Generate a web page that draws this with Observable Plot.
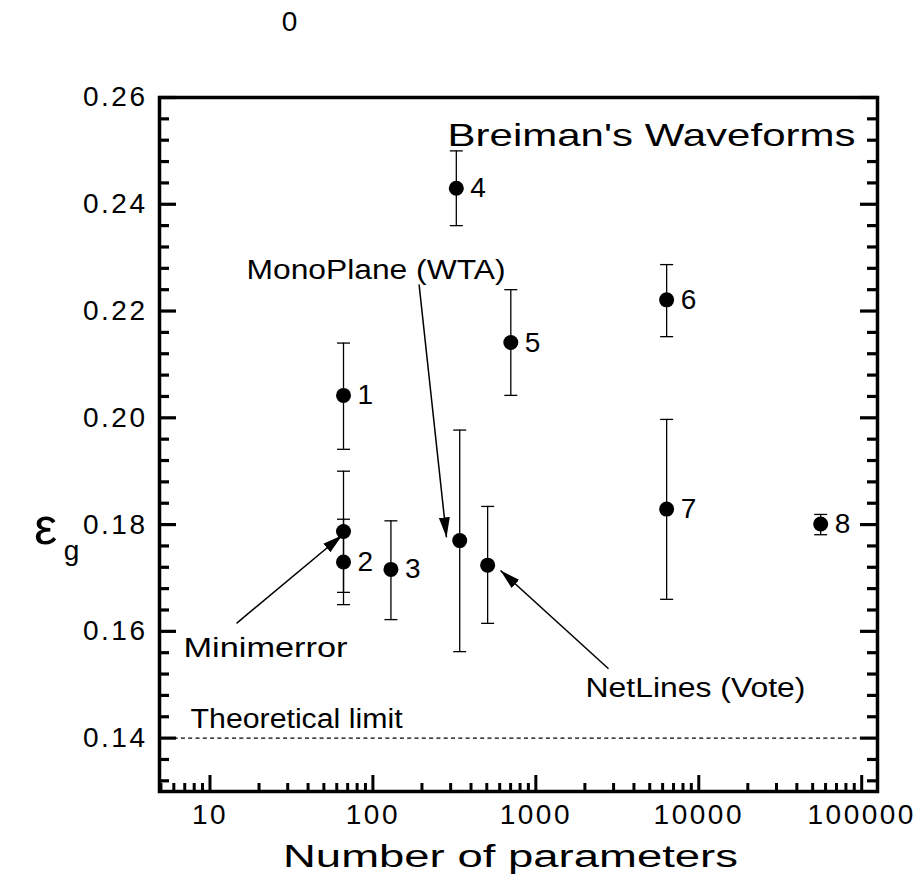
<!DOCTYPE html>
<html>
<head>
<meta charset="utf-8">
<script src="https://cdn.jsdelivr.net/npm/d3@7"></script>
<script src="https://cdn.jsdelivr.net/npm/@observablehq/plot@0.6"></script>
<style>
  body { margin: 0; background: #fff; }
  #chart { width: 920px; height: 886px; }
</style>
</head>
<body>
<div id="chart"></div>
<script>
// ---- data ----
const names      = ["1", "Minimerror", "2", "3", "MonoPlane", "4", "NetLines", "5", "6", "7", "8"];
const pointLabels= ["1", "", "2", "3", "", "4", "", "5", "6", "7", "8"];
const params     = [66, 66, 66, 129, 341, 325, 506, 702, 6350, 6350, 56000];
const errRate    = [0.2042, 0.1787, 0.1730, 0.1716, 0.1770, 0.2430, 0.1724, 0.2141, 0.2221, 0.1829, 0.1801];
const errLow     = [0.1941, 0.1673, 0.1650, 0.1622, 0.1562, 0.2360, 0.1615, 0.2042, 0.2152, 0.1660, 0.1781];
const errHigh    = [0.2140, 0.1900, 0.1810, 0.1807, 0.1977, 0.2500, 0.1834, 0.2240, 0.2287, 0.1997, 0.1819];

const theoreticalLimit = 0.14;

const annTexts = ["MonoPlane (WTA)", "Minimerror", "NetLines (Vote)", "Theoretical limit"];
const annX     = [16.76, 6.88, 2017, 7.60];
const annY     = [0.2276, 0.1568, 0.1493, 0.1435];
const annWidth = [259, 164, 220, 212];

const arrowX1 = [192, 14.55, 2793];
const arrowY1 = [0.2250, 0.1615, 0.1530];
const arrowX2 = [282.9, 64.8, 607];
const arrowY2 = [0.1776, 0.1780, 0.1714];

const titleText = "Breiman's Waveforms";
const titleX = 287, titleY = 0.2529, titleWidth = 408;
const xTitle = "Number of parameters", xTitleWidth = 455;
const yLabelMain = "ε", yLabelSub = "g";
const strayText = "0";

const xMajor = [10, 100, 1000, 10000, 100000];
const xMinor = [];
for (const dec of [1, 10, 100, 1000, 10000]) for (let k = 2; k <= 9; k++) { const v = k * dec; if (v >= 5 && v <= 125000 && !xMajor.includes(v)) xMinor.push(v); }
const yMajor = [0.14, 0.16, 0.18, 0.20, 0.22, 0.24, 0.26];
const yMinor = d3.range(0, 33).map(i => +(0.132 + i * 0.004).toFixed(3)).filter(v => v <= 0.26 && !yMajor.some(m => Math.abs(m - v) < 1e-9));

// ---- layout ----
const W = 920, H = 886, mt = 97, mr = 43, mb = 95, ml = 159;
const pw = W - ml - mr, ph = H - mt - mb;

const capSymbol = { draw(ctx, size) { const w = Math.sqrt(size / Math.PI); ctx.moveTo(-w, 0); ctx.lineTo(w, 0); } };

function filledArrow(color, context) {
  const doc = (context && context.document) || document;
  const ns = "http://www.w3.org/2000/svg";
  const m = doc.createElementNS(ns, "marker");
  m.setAttribute("viewBox", "-20 -6 20 12");
  m.setAttribute("markerWidth", 20);
  m.setAttribute("markerHeight", 12);
  m.setAttribute("markerUnits", "userSpaceOnUse");
  m.setAttribute("orient", "auto");
  m.setAttribute("refX", 0);
  m.setAttribute("refY", 0);
  const p = doc.createElementNS(ns, "path");
  p.setAttribute("d", "M-20,-5.5L0,0L-20,5.5Z");
  p.setAttribute("fill", "black");
  p.setAttribute("stroke", "none");
  m.appendChild(p);
  return m;
}

const fam = "'Liberation Sans', Arial, Helvetica, sans-serif";

const plot = Plot.plot({
  width: W, height: H,
  marginTop: mt, marginRight: mr, marginBottom: mb, marginLeft: ml,
  style: { fontFamily: fam, background: "white", color: "black" },
  x: { type: "log", domain: [4.9, 125000] },
  y: { type: "linear", domain: [0.13, 0.26] },
  marks: [
    Plot.axisX(xMajor, { tickSize: 0, tickPadding: 13, fontSize: 28, tickFormat: d3.format("d"), label: null }),
    Plot.axisY(yMajor, { tickSize: 0, tickPadding: 12, fontSize: 28, tickFormat: d3.format(".2f"), label: null }),
    Plot.ruleX(xMajor, { x: d => d, insetTop: ph - 16, strokeWidth: 3 }),
    Plot.ruleX(xMinor, { x: d => d, insetTop: ph - 8, strokeWidth: 3 }),
    Plot.ruleY(yMajor, { y: d => d, insetRight: pw - 17, strokeWidth: 3.2 }),
    Plot.ruleY(yMinor, { y: d => d, insetRight: pw - 10, strokeWidth: 3.2 }),
    Plot.ruleY(yMajor, { y: d => d, insetLeft: pw - 17, strokeWidth: 3.2 }),
    Plot.ruleY(yMinor, { y: d => d, insetLeft: pw - 10, strokeWidth: 3.2 }),
    Plot.ruleY([theoreticalLimit], { y: d => d, strokeDasharray: "4,3.3", strokeWidth: 1.2 }),
    Plot.ruleX(names, { x: params, y1: errLow, y2: errHigh, strokeWidth: 1.3 }),
    Plot.dot(names, { x: params, y: errLow, symbol: capSymbol, r: 6.5, fill: "none", stroke: "black", strokeWidth: 1.3 }),
    Plot.dot(names, { x: params, y: errHigh, symbol: capSymbol, r: 6.5, fill: "none", stroke: "black", strokeWidth: 1.3 }),
    Plot.dot(names, { x: params, y: errRate, r: 7.5, fill: "black", stroke: "none" }),
    Plot.text(names, { x: params, y: errRate, text: pointLabels, dx: 14, textAnchor: "start", fontSize: 28 }),
    Plot.link(annTexts.slice(0, 3), { x1: arrowX1, y1: arrowY1, x2: arrowX2, y2: arrowY2, stroke: "black", strokeWidth: 1.5, markerEnd: filledArrow }),
    Plot.text(annTexts, { x: annX, y: annY, text: d => d, textAnchor: "start", fontSize: 27 }),
    Plot.text([titleText], { x: [titleX], y: [titleY], text: d => d, textAnchor: "start", fontSize: 32 }),
    Plot.text([xTitle], { frameAnchor: "bottom", dy: 75, dx: -8, text: d => d, textAnchor: "middle", fontSize: 31 }),
    Plot.text([yLabelMain], { frameAnchor: "left", dx: -114, dy: 83, text: d => d, textAnchor: "middle", fontSize: 52 }),
    Plot.text([yLabelSub], { frameAnchor: "left", dx: -88, dy: 107, text: d => d, textAnchor: "middle", fontSize: 28 }),
    Plot.text([strayText], { frameAnchor: "top-left", dx: 130, dy: -86, text: d => d, textAnchor: "middle", fontSize: 28 }),
    Plot.frame({ strokeWidth: 3.5 })
  ]
});
document.getElementById("chart").appendChild(plot);

// match the original's wide Helvetica rendering: letter spacing / stretched text lengths
const widths = new Map([[titleText, titleWidth], [xTitle, xTitleWidth]]);
annTexts.forEach((t, i) => widths.set(t, annWidth[i]));
d3.select(plot).selectAll("text").each(function () {
  const t = this.textContent;
  if (widths.has(t)) {
    this.setAttribute("textLength", widths.get(t));
    this.setAttribute("lengthAdjust", "spacingAndGlyphs");
  } else if (t !== yLabelMain && t !== yLabelSub && t !== strayText) {
    this.style.letterSpacing = "2.5px";
  }
});
</script>
</body>
</html>
